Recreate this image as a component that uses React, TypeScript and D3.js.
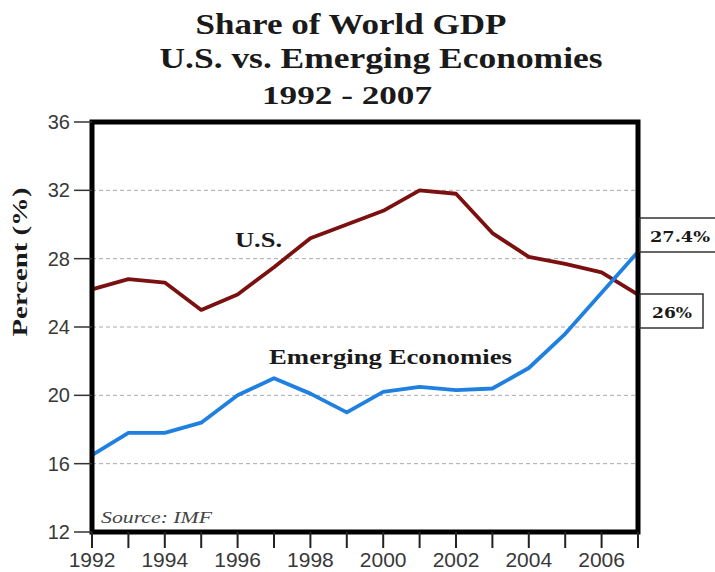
import React from "react";
import * as d3 from "d3";

const years = [1992, 1993, 1994, 1995, 1996, 1997, 1998, 1999, 2000, 2001, 2002, 2003, 2004, 2005, 2006, 2007];
const usShare = [26.2, 26.8, 26.6, 25.0, 25.9, 27.5, 29.2, 30.0, 30.8, 32.0, 31.8, 29.5, 28.1, 27.7, 27.2, 25.9];
const emergingShare = [16.5, 17.8, 17.8, 18.4, 20.0, 21.0, 20.1, 19.0, 20.2, 20.5, 20.3, 20.4, 21.6, 23.6, 26.0, 28.4];
const yTicks = [12, 16, 20, 24, 28, 32, 36];
const gridTicks = [16, 20, 24, 28, 32];
const xLabelYears = [1992, 1994, 1996, 1998, 2000, 2002, 2004, 2006];
const titleLines = ["Share of World GDP", "U.S. vs. Emerging Economies", "1992 - 2007"];
const endLabels = ["27.4%", "26%"];

export default function App() {
  const W = 715, H = 572;
  const x0 = 92, x1 = 638, yTop = 122, yBot = 532;
  const x = d3.scaleLinear().domain([1992, 2007]).range([x0, x1]);
  const y = d3.scaleLinear().domain([12, 36]).range([yBot, yTop]);
  const line = d3.line<number>().x((_, i) => x(years[i])).y((d) => y(d));
  const serif = "'Liberation Serif', 'Times New Roman', serif";
  const sans = "'Liberation Sans', Arial, sans-serif";

  return (
    <svg width={W} height={H} style={{ position: "absolute", left: 0, top: 0, background: "#fff" }}>
      {/* Title */}
      <text x={351} y={34} textAnchor="middle" fontFamily={serif} fontWeight="bold" fontSize={29} fill="#1a1a1a" textLength={311} lengthAdjust="spacingAndGlyphs">{titleLines[0]}</text>
      <text x={381} y={68} textAnchor="middle" fontFamily={serif} fontWeight="bold" fontSize={29} fill="#1a1a1a" textLength={443} lengthAdjust="spacingAndGlyphs">{titleLines[1]}</text>
      <text x={347} y={104} textAnchor="middle" fontFamily={serif} fontWeight="bold" fontSize={26} fill="#1a1a1a" textLength={170} lengthAdjust="spacingAndGlyphs">{titleLines[2]}</text>

      {/* Grid */}
      {gridTicks.map((t) => (
        <line key={t} x1={x0} x2={x1} y1={y(t)} y2={y(t)} stroke="#aaaaaa" strokeWidth={1} strokeDasharray="4,3" />
      ))}

      {/* Lines */}
      <path d={line(usShare) || ""} fill="none" stroke="#7b1010" strokeWidth={3.8} strokeLinejoin="round" />
      <path d={line(emergingShare) || ""} fill="none" stroke="#1f80e0" strokeWidth={3.8} strokeLinejoin="round" />

      {/* Frame */}
      <rect x={x0} y={yTop} width={x1 - x0} height={yBot - yTop} fill="none" stroke="#000" strokeWidth={5} />

      {/* Y axis */}
      {yTicks.map((t) => (
        <g key={t}>
          <line x1={74} x2={x0} y1={y(t)} y2={y(t)} stroke="#333" strokeWidth={1.5} />
          <text x={70} y={y(t)} dy="0.35em" textAnchor="end" fontFamily={sans} fontSize={20} fill="#383838">{t}</text>
        </g>
      ))}
      <text transform={`translate(27,262) rotate(-90)`} textAnchor="middle" fontFamily={serif} fontWeight="bold" fontSize={21} fill="#1a1a1a" textLength={149} lengthAdjust="spacingAndGlyphs">Percent (%)</text>

      {/* X axis */}
      {years.map((yr) => (
        <line key={yr} x1={x(yr)} x2={x(yr)} y1={yBot} y2={548} stroke="#222" strokeWidth={2} />
      ))}
      {xLabelYears.map((yr) => (
        <text key={yr} x={x(yr)} y={567} textAnchor="middle" fontFamily={sans} fontSize={21} fill="#383838">{yr}</text>
      ))}

      {/* Series labels */}
      <text x={235} y={247} fontFamily={serif} fontWeight="bold" fontSize={22} fill="#1a1a1a" textLength={47} lengthAdjust="spacingAndGlyphs">U.S.</text>
      <text x={269} y={364} fontFamily={serif} fontWeight="bold" fontSize={22} fill="#1a1a1a" textLength={243} lengthAdjust="spacingAndGlyphs">Emerging Economies</text>
      <text x={101} y={523} fontFamily={serif} fontStyle="italic" fontSize={16} fill="#444" textLength={111} lengthAdjust="spacingAndGlyphs">Source:  IMF</text>

      {/* End labels */}
      <rect x={x1 + 2} y={218} width={80} height={34} fill="#fff" stroke="#333" strokeWidth={1.5} />
      <text x={680} y={242} textAnchor="middle" fontFamily="'DejaVu Serif', serif" fontWeight="bold" fontSize={15} fill="#1a1a1a" textLength={60} lengthAdjust="spacingAndGlyphs">{endLabels[0]}</text>
      <rect x={x1 + 2} y={294} width={63} height={34} fill="#fff" stroke="#333" strokeWidth={1.5} />
      <text x={672} y={318} textAnchor="middle" fontFamily="'DejaVu Serif', serif" fontWeight="bold" fontSize={15} fill="#1a1a1a" textLength={40} lengthAdjust="spacingAndGlyphs">{endLabels[1]}</text>
    </svg>
  );
}
